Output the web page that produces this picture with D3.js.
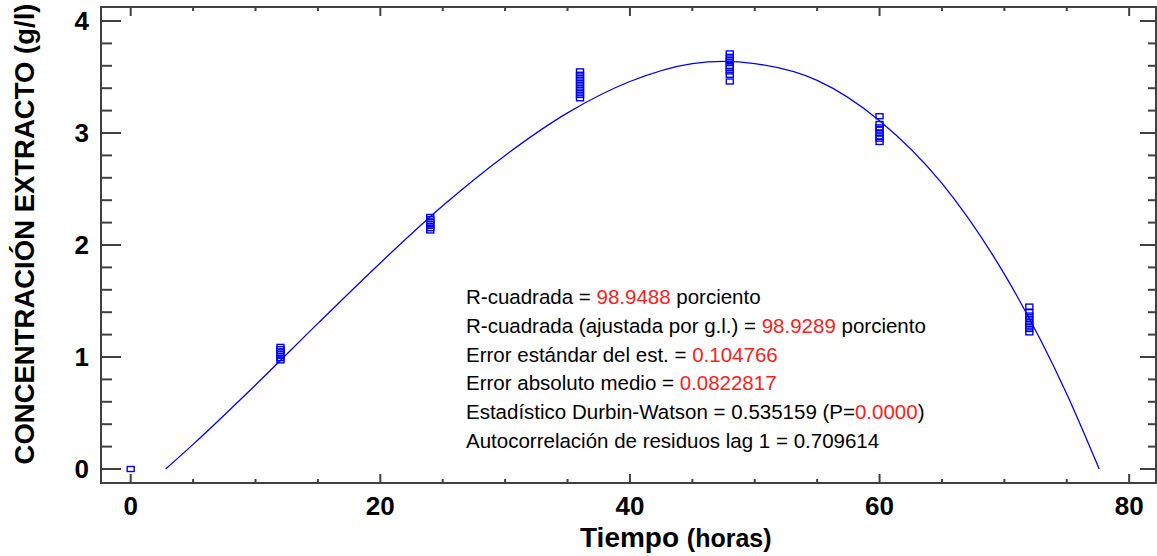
<!DOCTYPE html>
<html><head><meta charset="utf-8">
<script src="https://cdn.jsdelivr.net/npm/d3@7"></script>
<style>body{margin:0;background:#fff;} svg{display:block;}</style>
</head><body>
<svg id="c" width="1157" height="556"></svg>
<script>
// ---- data ----
const times = [0, 12, 24, 36, 48, 60, 72];
const replicates = [
  [0],
  [0.97, 0.99, 1.01, 1.03, 1.05, 1.07, 1.09],
  [2.13, 2.15, 2.17, 2.19, 2.21, 2.23, 2.25],
  [3.31, 3.34, 3.37, 3.40, 3.43, 3.46, 3.49, 3.52, 3.55],
  [3.46, 3.52, 3.55, 3.58, 3.60, 3.63, 3.65, 3.68, 3.71],
  [2.92, 2.95, 2.97, 3.00, 3.03, 3.05, 3.08, 3.15],
  [1.22, 1.25, 1.28, 1.31, 1.34, 1.37, 1.40, 1.45]
];
const fitX = [2.8, 5, 10, 15, 20, 25, 30, 35, 40, 45, 47.5, 50, 55, 60, 65, 70, 75, 77.6];
const fitY = [0, 0.22, 0.75, 1.30, 1.84, 2.35, 2.80, 3.18, 3.46, 3.62, 3.64, 3.62, 3.47, 3.11, 2.55, 1.74, 0.67, 0];
const xTicks = [0, 20, 40, 60, 80];
const yTicks = [0, 1, 2, 3, 4];
const statLines = [
  [["R-cuadrada = ", 0], ["98.9488", 1], [" porciento", 0]],
  [["R-cuadrada (ajustada por g.l.) = ", 0], ["98.9289", 1], [" porciento", 0]],
  [["Error estándar del est. = ", 0], ["0.104766", 1]],
  [["Error absoluto medio = ", 0], ["0.0822817", 1]],
  [["Estadístico Durbin-Watson = 0.535159 (P=", 0], ["0.0000", 1], [")", 0]],
  [["Autocorrelación de residuos lag 1 = 0.709614", 0]]
];

// ---- layout ----
const L = 101, R = 1156, T = 7, B = 483;
const x = d3.scaleLinear().domain([-2.38, 82.15]).range([L, R]);
const y = d3.scaleLinear().domain([-0.125, 4.125]).range([B, T]);
const svg = d3.select("#c");
const axisColor = "#404040";
const font = "'Liberation Sans', Arial, sans-serif";

// frame
svg.append("rect").attr("x", L).attr("y", T).attr("width", R - L).attr("height", B - T)
  .attr("fill", "none").attr("stroke", axisColor).attr("stroke-width", 2);

// ticks
const g = svg.append("g").attr("stroke", axisColor).attr("stroke-width", 2);
d3.range(0, 81, 5).forEach(v => {
  const major = v % 20 === 0, len = major ? 9 : 4;
  g.append("line").attr("x1", x(v)).attr("x2", x(v)).attr("y1", B).attr("y2", B - len);
  g.append("line").attr("x1", x(v)).attr("x2", x(v)).attr("y1", T).attr("y2", T + len);
});
d3.range(0, 21).map(i => i * 0.2).forEach((v, i) => {
  const major = i % 5 === 0, len = major ? 20 : 11;
  g.append("line").attr("y1", y(v)).attr("y2", y(v)).attr("x1", L).attr("x2", L + len);
  g.append("line").attr("y1", y(v)).attr("y2", y(v)).attr("x1", R).attr("x2", R - (major ? 16 : 8));
});

// tick labels
svg.append("g").selectAll("text").data(xTicks).join("text")
  .attr("x", d => x(d)).attr("y", 515).attr("text-anchor", "middle")
  .attr("font-family", font).attr("font-weight", "bold").attr("font-size", 26)
  .attr("fill", "#000").text(d => d);
svg.append("g").selectAll("text").data(yTicks).join("text")
  .attr("x", 89).attr("y", d => y(d) + 9).attr("text-anchor", "end")
  .attr("font-family", font).attr("font-weight", "bold").attr("font-size", 26)
  .attr("fill", "#000").text(d => d);

// axis titles
const xt = svg.append("text").attr("x", 580).attr("y", 547).attr("text-anchor", "start")
  .attr("font-family", font).attr("font-weight", "bold").attr("fill", "#000");
xt.append("tspan").attr("font-size", 28).text("Tiempo ");
xt.append("tspan").attr("font-size", 25).text("(horas)");
svg.append("text").attr("transform", "translate(34,234) rotate(-90)").attr("text-anchor", "middle")
  .attr("font-family", font).attr("font-weight", "bold").attr("font-size", 27.5).attr("fill", "#000")
  .text("CONCENTRACIÓN EXTRACTO (g/l)");

// fitted curve
const fit = fitX.map((d, i) => [d, fitY[i]]);
svg.append("path").datum(fit)
  .attr("d", d3.line().x(d => x(d[0])).y(d => y(d[1])).curve(d3.curveMonotoneX))
  .attr("fill", "none").attr("stroke", "#0000ff").attr("stroke-width", 1.3);

// observed points
const pts = [];
times.forEach((t, i) => replicates[i].forEach(v => pts.push([t, v])));
svg.append("g").selectAll("rect").data(pts).join("rect")
  .attr("x", d => x(d[0]) - 3.5).attr("y", d => y(d[1]) - 2.5).attr("width", 7).attr("height", 5)
  .attr("fill", "none").attr("stroke", "#0000ff").attr("stroke-width", 1.4);

// statistics text
const st = svg.append("g");
statLines.forEach((line, i) => {
  const t = st.append("text").attr("x", 466).attr("y", 304 + i * 28.8)
    .attr("font-family", font).attr("font-size", 20.5);
  line.forEach(([s, red]) => t.append("tspan").attr("fill", red ? "#ff2020" : "#000").text(s));
});
</script>
</body></html>
